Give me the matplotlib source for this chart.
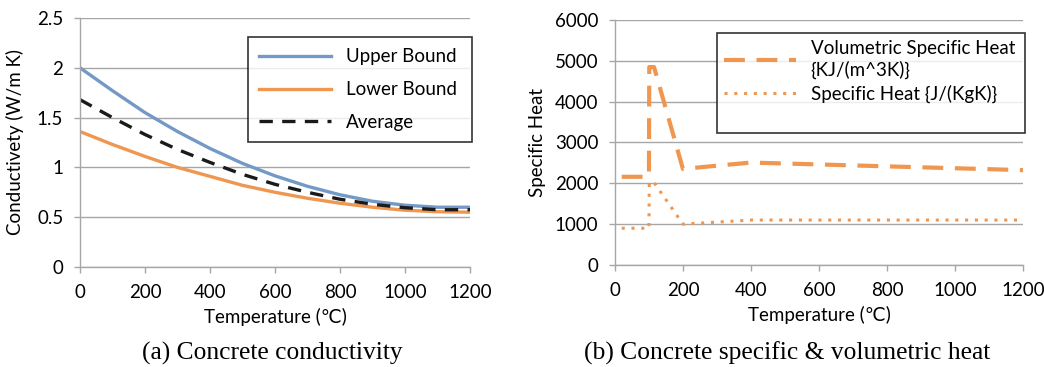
import matplotlib
matplotlib.use("Agg")
import matplotlib.pyplot as plt
from matplotlib.lines import Line2D

plt.rcParams['font.family'] = ['Lato', 'DejaVu Sans']

# (a) conductivity, every 100 C
temp_a = [0, 100, 200, 300, 400, 500, 600, 700, 800, 900, 1000, 1100, 1200]
upper = [2.00, 1.77, 1.55, 1.36, 1.19, 1.04, 0.915, 0.81, 0.725, 0.66, 0.62, 0.60, 0.60]
lower = [1.36, 1.23, 1.11, 1.00, 0.91, 0.82, 0.75, 0.69, 0.64, 0.60, 0.57, 0.555, 0.55]
average = [1.68, 1.50, 1.33, 1.18, 1.05, 0.93, 0.83, 0.75, 0.68, 0.63, 0.595, 0.575, 0.575]

# (b) specific heat
temp_vol = [20, 100, 101, 115, 200, 300, 400, 1200]
vol_heat = [2160, 2160, 4848, 4848, 2352, 2432, 2508, 2323]
temp_sh = [20, 100, 101, 115, 200, 400, 1200]
spec_heat = [900, 900, 2020, 2020, 1000, 1100, 1100]

BLUE = '#7399C6'
ORANGE = '#EF9650'
GRID = '#A6A6A6'
FS = 13.5

fig = plt.figure(figsize=(10.44, 3.67), dpi=100)
ax1 = fig.add_axes([0.0766, 0.2725, 0.3736, 0.6785])
ax2 = fig.add_axes([0.589, 0.278, 0.391, 0.6675])


def style_axes(ax):
    for s in ['top', 'right']:
        ax.spines[s].set_visible(False)
    for s in ['left', 'bottom']:
        ax.spines[s].set_color(GRID)
        ax.spines[s].set_linewidth(1.0)
    ax.yaxis.grid(True, color=GRID, linewidth=1.0)
    ax.set_axisbelow(True)
    ax.tick_params(axis='both', colors=GRID, labelcolor='black', labelsize=FS,
                   length=4, width=1.0)
    ax.tick_params(axis='x', pad=8)
    ax.tick_params(axis='y', pad=8)


ax1.plot(temp_a, upper, color=BLUE, lw=2.4, label='Upper Bound')
ax1.plot(temp_a, lower, color=ORANGE, lw=2.4, label='Lower Bound')
ax1.plot(temp_a, average, color='#1a1a1a', lw=2.4, ls=(0, (4, 2.8)), label='Average')
ax1.set_xlim(0, 1200)
ax1.set_ylim(0, 2.5)
ax1.set_xticks(range(0, 1201, 200))
ax1.set_yticks([0, 0.5, 1, 1.5, 2, 2.5])
ax1.set_yticklabels(['0', '0.5', '1', '1.5', '2', '2.5'])
style_axes(ax1)
ax1.set_ylabel('Conductivety (W/m K)', fontsize=FS, labelpad=9)
ax1.set_xlabel('Temperature (℃)', fontsize=FS, labelpad=5)
leg1 = ax1.legend(loc='upper left', bbox_to_anchor=(0.431, 0.0, 0.574, 0.924),
                  mode='expand', fontsize=FS, frameon=True, fancybox=False,
                  edgecolor='black', handlelength=3.8, labelspacing=0.85,
                  borderpad=0.6, borderaxespad=0.0)
leg1.get_frame().set_linewidth(1.2)

ax2.plot(temp_vol, vol_heat, color=ORANGE, lw=3.0, ls=(0, (5, 2.8)),
         label='Volumetric Specific Heat\n{KJ/(m^3K)}')
ax2.plot(temp_sh, spec_heat, color=ORANGE, lw=2.2, ls=(0, (1, 2.2)),
         label='Specific Heat {J/(KgK)}')
ax2.set_xlim(0, 1200)
ax2.set_ylim(0, 6000)
ax2.set_xticks(range(0, 1201, 200))
ax2.set_yticks(range(0, 6001, 1000))
style_axes(ax2)
ax2.set_ylabel('Specific Heat', fontsize=FS, labelpad=6)
ax2.set_xlabel('Temperature (℃)', fontsize=FS, labelpad=5)
handles, labels = ax2.get_legend_handles_labels()
handles.append(Line2D([], [], color='none'))
labels.append(' ')
leg2 = ax2.legend(handles, labels, loc='upper left',
                  bbox_to_anchor=(0.25, 0.0, 0.755, 0.947), mode='expand',
                  fontsize=FS, frameon=True, fancybox=False, edgecolor='black',
                  handlelength=3.8, labelspacing=0.3, borderpad=0.4,
                  borderaxespad=0.0)
leg2.get_frame().set_linewidth(1.2)

fig.text(0.261, 0.02, '(a) Concrete conductivity', fontsize=18.4,
         family='Liberation Serif', ha='center')
fig.text(0.754, 0.02, '(b) Concrete specific & volumetric heat', fontsize=18.4,
         family='Liberation Serif', ha='center')

fig.savefig('out.png', dpi=100)
